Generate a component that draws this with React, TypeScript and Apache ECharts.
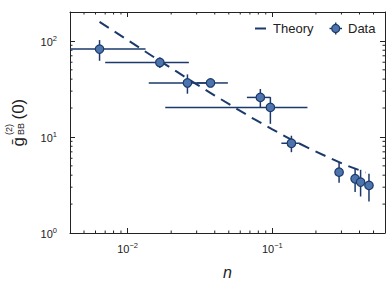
import React, { useEffect, useRef } from "react";
import * as echarts from "echarts";

// Theory curve
const theoryN = [0.0064, 0.008, 0.01, 0.013, 0.017, 0.022, 0.03, 0.04, 0.055, 0.075, 0.1, 0.135, 0.18, 0.24, 0.32, 0.44];
const theoryG = [158, 127, 102, 78.9, 60.8, 47.5, 35.3, 27, 20.2, 15.3, 12, 9.4, 7.6, 6.2, 5.1, 4.27];

// Data points with error bars
const dataN = [0.0064, 0.0167, 0.0259, 0.0374, 0.0826, 0.0969, 0.1354, 0.289, 0.373, 0.407, 0.465];
const dataG = [82.2, 59.7, 36.5, 36.5, 25.8, 20.3, 8.6, 4.3, 3.67, 3.39, 3.13];
const nLo = [0.0035, 0.007, 0.014, 0.03, 0.0667, 0.0182, 0.1154, 0.28, 0.362, 0.398, 0.455];
const nHi = [0.0133, 0.0265, 0.04, 0.0493, 0.0969, 0.1747, 0.1545, 0.3, 0.385, 0.418, 0.475];
const gLo = [62.1, 52.2, 28.2, 34.5, 20.3, 13.7, 6.94, 3.34, 2.67, 2.4, 2.13];
const gHi = [102, 67.2, 44.8, 38.5, 31.6, 26.0, 10.3, 5.46, 4.66, 4.55, 4.14];

// Axis ranges and minor tick values
const xMin = 0.004;
const xMax = 0.6;
const yMin = 1;
const yMax = 200;
const xMinorTicks = [0.005, 0.006, 0.007, 0.008, 0.009, 0.02, 0.03, 0.04, 0.05, 0.06, 0.07, 0.08, 0.09, 0.2, 0.3, 0.4, 0.5];
const yMinorTicks = [2, 3, 4, 5, 6, 7, 8, 9, 20, 30, 40, 50, 60, 70, 80, 90];

const NAVY = "#1b3a6b";
const FILL = "#4d74ad";
const AXIS = "#222";
const FONT = "Liberation Sans, Arial, sans-serif";

const powLabel = (v: number) => {
  const l = Math.log10(v);
  const e = Math.round(l);
  if (Math.abs(l - e) > 1e-6) return "";
  const s = e < 0 ? "\u2212" + Math.abs(e) : String(e);
  return `{a|10}{b|${s}}`;
};

const richLabel = {
  a: { fontSize: 11, fontFamily: FONT, color: AXIS, lineHeight: 13, verticalAlign: "bottom" },
  b: { fontSize: 7.5, fontFamily: FONT, color: AXIS, lineHeight: 8, verticalAlign: "top" },
};

export default function App() {
  const ref = useRef<HTMLDivElement>(null);
  useEffect(() => {
    if (!ref.current) return;
    const chart = echarts.init(ref.current, undefined, { renderer: "svg" });

    const axisCommon = {
      type: "log" as const,
      logBase: 10,
      axisLine: { show: true, lineStyle: { color: AXIS, width: 1 } },
      axisTick: { show: true, inside: true, length: 5, lineStyle: { color: AXIS, width: 1 } },
      splitLine: { show: false },
      minorTick: { show: false },
    };

    const option: any = {
      animation: false,
      grid: { left: 70, top: 12, width: 315, height: 221, containLabel: false },
      xAxis: [
        {
          ...axisCommon,
          position: "bottom",
          min: xMin,
          max: xMax,
          axisLabel: { formatter: powLabel, rich: richLabel, margin: 8, showMinLabel: false, showMaxLabel: false },
          name: "n",
          nameLocation: "middle",
          nameGap: 31,
          nameTextStyle: { fontSize: 16, fontStyle: "italic", fontFamily: FONT, color: AXIS },
        },
        {
          ...axisCommon,
          position: "top",
          min: xMin,
          max: xMax,
          axisLabel: { show: false },
        },
      ],
      yAxis: [
        {
          ...axisCommon,
          position: "left",
          min: yMin,
          max: yMax,
          axisLabel: { formatter: powLabel, rich: richLabel, margin: 13, showMaxLabel: false },
        },
        {
          ...axisCommon,
          position: "right",
          min: yMin,
          max: yMax,
          axisLabel: { show: false },
        },
      ],
      graphic: [
        // y-axis title: ḡ^(2)_BB(0)
        {
          type: "group",
          x: 24,
          y: 122,
          rotation: Math.PI / 2,
          children: [
            { type: "text", x: -24.5, y: -6, style: { text: "\u1e21", fontSize: 17, fontFamily: FONT, fill: AXIS, align: "left", verticalAlign: "middle" } },
            { type: "text", x: -13, y: -15, style: { text: "(2)", fontSize: 9, fontFamily: FONT, fill: AXIS, align: "left", verticalAlign: "middle" } },
            { type: "text", x: -13, y: -3.5, style: { text: "BB", fontSize: 9, fontFamily: FONT, fill: AXIS, align: "left", verticalAlign: "middle" } },
            { type: "text", x: 2.5, y: -6, style: { text: "(0)", fontSize: 17, fontFamily: FONT, fill: AXIS, align: "left", verticalAlign: "middle" } },
          ],
        },
        // legend
        { type: "line", shape: { x1: 255, y1: 28.5, x2: 266, y2: 28.5 }, style: { stroke: NAVY, lineWidth: 2 } },
        { type: "text", x: 273, y: 28.5, style: { text: "Theory", fontSize: 13, fontFamily: FONT, fill: AXIS, verticalAlign: "middle", align: "left" } },
        { type: "line", shape: { x1: 329.5, y1: 28.5, x2: 342, y2: 28.5 }, style: { stroke: NAVY, lineWidth: 1.5 } },
        { type: "line", shape: { x1: 335.7, y1: 22.5, x2: 335.7, y2: 34.5 }, style: { stroke: NAVY, lineWidth: 1.5 } },
        { type: "circle", shape: { cx: 335.7, cy: 28.5, r: 4 }, style: { fill: FILL, stroke: NAVY, lineWidth: 1.2 } },
        { type: "text", x: 348, y: 28.5, style: { text: "Data", fontSize: 13, fontFamily: FONT, fill: AXIS, verticalAlign: "middle", align: "left" } },
      ],
      series: [
        {
          type: "custom",
          name: "xMinor",
          silent: true,
          renderItem: (params: any, api: any) => {
            const cs = params.coordSys;
            const p = api.coord([api.value(0), 10]);
            const bottom = cs.y + cs.height;
            return {
              type: "group",
              children: [
                { type: "line", shape: { x1: p[0], y1: bottom, x2: p[0], y2: bottom - 2.5 }, style: { stroke: AXIS, lineWidth: 1 } },
                { type: "line", shape: { x1: p[0], y1: cs.y, x2: p[0], y2: cs.y + 2.5 }, style: { stroke: AXIS, lineWidth: 1 } },
              ],
            };
          },
          data: xMinorTicks.map((v) => [v, 10]),
          z: 1,
        },
        {
          type: "custom",
          name: "yMinor",
          silent: true,
          renderItem: (params: any, api: any) => {
            const cs = params.coordSys;
            const p = api.coord([0.01, api.value(1)]);
            const right = cs.x + cs.width;
            return {
              type: "group",
              children: [
                { type: "line", shape: { x1: cs.x, y1: p[1], x2: cs.x + 2.5, y2: p[1] }, style: { stroke: AXIS, lineWidth: 1 } },
                { type: "line", shape: { x1: right, y1: p[1], x2: right - 2.5, y2: p[1] }, style: { stroke: AXIS, lineWidth: 1 } },
              ],
            };
          },
          data: yMinorTicks.map((v) => [0.01, v]),
          z: 1,
        },
        {
          type: "line",
          name: "Theory",
          data: theoryN.map((n, i) => [n, theoryG[i]]),
          showSymbol: false,
          symbol: "none",
          lineStyle: { color: NAVY, width: 2, type: [11, 7] },
          z: 2,
        },
        {
          type: "custom",
          name: "errors",
          clip: true,
          renderItem: (params: any, api: any) => {
            const cs = params.coordSys;
            const x = api.value(0), y = api.value(1);
            const c = api.coord([x, y]);
            const l = api.coord([api.value(2), y]);
            const r = api.coord([api.value(3), y]);
            const t = api.coord([x, api.value(5)]);
            const b = api.coord([x, api.value(4)]);
            const cx = (v: number) => Math.max(cs.x, Math.min(cs.x + cs.width, v));
            return {
              type: "group",
              children: [
                { type: "line", shape: { x1: cx(l[0]), y1: c[1], x2: cx(r[0]), y2: c[1] }, style: { stroke: NAVY, lineWidth: 1.5 } },
                { type: "line", shape: { x1: c[0], y1: t[1], x2: c[0], y2: b[1] }, style: { stroke: NAVY, lineWidth: 1.5 } },
              ],
            };
          },
          encode: { x: 0, y: 1 },
          data: dataN.map((n, i) => [n, dataG[i], nLo[i], nHi[i], gLo[i], gHi[i]]),
          z: 3,
        },
        {
          type: "scatter",
          name: "Data",
          data: dataN.map((n, i) => [n, dataG[i]]),
          symbol: "circle",
          symbolSize: 8.5,
          itemStyle: { color: FILL, borderColor: NAVY, borderWidth: 1.2, opacity: 1 },
          z: 4,
        },
      ],
    };
    chart.setOption(option);
    return () => chart.dispose();
  }, []);
  return <div ref={ref} style={{ width: 390, height: 292, position: "absolute", left: 0, top: 0 }} />;
}
